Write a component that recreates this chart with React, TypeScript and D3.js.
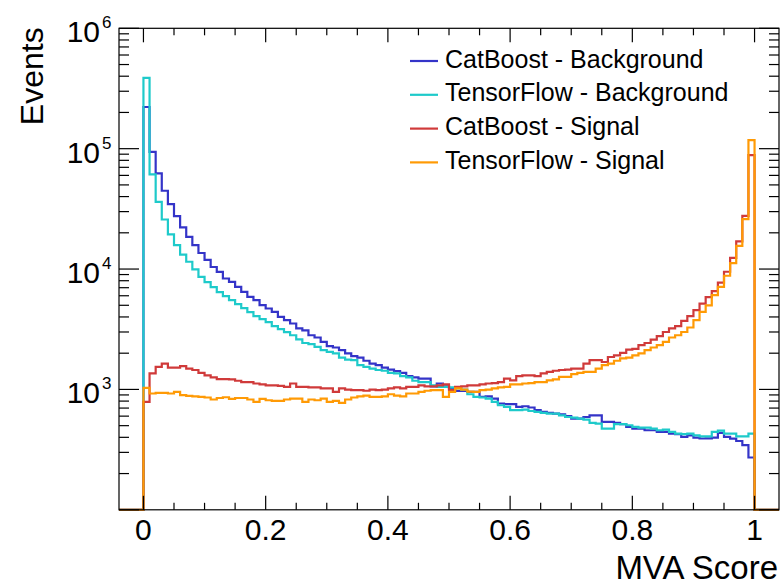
import React from 'react';
import * as d3 from 'd3';

// Histogram binning: 100 bins over [0, 1], axis shown over [-0.04, 1.04]
const binCount = 100;
const scoreMin = 0;
const scoreMax = 1;
const axisMin = -0.04;
const axisMax = 1.04;

const xTickValues = [0, 0.2, 0.4, 0.6, 0.8, 1];
const xTickLabels = ['0', '0.2', '0.4', '0.6', '0.8', '1'];
const yDecades = [2, 3, 4, 5, 6];
const yLabelDecades = [3, 4, 5, 6];

const catBoostBackground = [
  222000, 94200, 62400, 44700, 34600, 27500, 22200, 18500, 15800, 13600,
  11900, 10400, 9480, 8350, 7830, 7120, 6460, 5870, 5510, 5010,
  4700, 4410, 4010, 3760, 3530, 3210, 3100, 2820, 2700, 2480,
  2290, 2230, 2120, 1990, 1890, 1840, 1730, 1640, 1590, 1520,
  1460, 1420, 1370, 1290, 1260, 1230, 1230, 1060, 1120, 1060,
  1020, 970, 970, 953, 953, 867, 877, 840, 764, 754,
  754, 716, 725, 708, 672, 650, 638, 630, 622, 599,
  573, 573, 590, 609, 609, 537, 537, 527, 514, 488,
  473, 473, 458, 458, 444, 444, 430, 425, 403, 416,
  398, 391, 392, 398, 435, 403, 390, 373, 344, 272,
];

const tensorFlowBackground = [
  388000, 61100, 36200, 25800, 19400, 15800, 13200, 11500, 9930, 8610,
  7780, 7080, 6430, 5960, 5520, 5110, 4730, 4380, 4060, 3840,
  3630, 3360, 3170, 2990, 2820, 2600, 2430, 2380, 2260, 2120,
  2050, 1990, 1840, 1770, 1750, 1590, 1540, 1490, 1450, 1430,
  1370, 1360, 1290, 1260, 1180, 1150, 1150, 1080, 1050, 1050,
  1040, 1020, 997, 912, 867, 857, 840, 787, 739, 716,
  672, 672, 680, 662, 650, 638, 630, 630, 609, 590,
  584, 573, 562, 527, 520, 473, 473, 514, 514, 504,
  488, 482, 482, 473, 458, 464, 444, 430, 425, 430,
  416, 408, 408, 444, 455, 430, 430, 408, 408, 430,
];

const catBoostSignal = [
  787, 1360, 1540, 1640, 1520, 1520, 1560, 1490, 1450, 1370,
  1310, 1260, 1220, 1220, 1210, 1180, 1150, 1150, 1120, 1100,
  1080, 1080, 1070, 1050, 1120, 1050, 1050, 1040, 1040, 1020,
  1020, 953, 1020, 997, 985, 985, 975, 997, 985, 997,
  1020, 1040, 1020, 1050, 1050, 1080, 1060, 1060, 1080, 1100,
  985, 1050, 1060, 1080, 1080, 1100, 1120, 1130, 1150, 1230,
  1190, 1290, 1310, 1310, 1290, 1360, 1400, 1430, 1450, 1460,
  1490, 1490, 1640, 1750, 1750, 1690, 1860, 1920, 2010, 2140,
  2170, 2330, 2430, 2590, 2770, 3000, 3210, 3350, 3710, 4060,
  4550, 5170, 5840, 6550, 7700, 9500, 12400, 17000, 27700, 88500,
];

const tensorFlowSignal = [
  1030, 925, 935, 935, 925, 953, 896, 884, 877, 867,
  857, 825, 849, 861, 834, 849, 849, 825, 787, 834,
  813, 802, 802, 825, 840, 840, 787, 825, 813, 840,
  787, 802, 773, 825, 857, 877, 889, 867, 867, 877,
  912, 889, 877, 925, 925, 953, 975, 985, 985, 867,
  953, 1020, 997, 960, 953, 985, 997, 1020, 1040, 1050,
  1100, 1100, 1120, 1130, 1150, 1150, 1190, 1210, 1270, 1270,
  1340, 1370, 1400, 1400, 1490, 1590, 1640, 1730, 1810, 1840,
  1920, 1990, 2120, 2230, 2330, 2480, 2700, 2820, 3000, 3270,
  3760, 4400, 5000, 6070, 7100, 8800, 11200, 15600, 26000, 117800,
];

const seriesNames = [
  'CatBoost - Background',
  'TensorFlow - Background',
  'CatBoost - Signal',
  'TensorFlow - Signal',
];
const seriesColors = ['#3434c8', '#1ecaca', '#d03a3a', '#ff9a05'];
const seriesValues = [catBoostBackground, tensorFlowBackground, catBoostSignal, tensorFlowSignal];

const W = 781;
const H = 586;
const FONT = '"Liberation Sans", Arial, Helvetica, sans-serif';

export default function App() {
  const left = 119;
  const right = 779;
  const top = 28.3;
  const bottom = 509.8;

  const x = d3.scaleLinear().domain([axisMin, axisMax]).range([left, right]);
  const y = d3.scaleLog().domain([100, 1e6]).range([bottom, top]);
  const width = (scoreMax - scoreMin) / binCount;

  const lineGen = d3.line<[number, number]>();

  const histPath = (vals: number[]) => {
    const pts: [number, number][] = [];
    pts.push([x(axisMin), bottom]);
    pts.push([x(scoreMin), bottom]);
    vals.forEach((v, i) => {
      const lo = scoreMin + i * width;
      const hi = scoreMin + (i + 1) * width;
      const yy = v > 0 ? y(v) : bottom;
      pts.push([x(lo), yy]);
      pts.push([x(hi), yy]);
    });
    pts.push([x(scoreMax), bottom]);
    pts.push([x(axisMax), bottom]);
    return lineGen(pts) || '';
  };

  // x ticks: majors every 0.2, minors every 0.05
  const xMinor = d3.range(0, 21).map((i) => i * 0.05).filter((v) => v >= axisMin && v <= axisMax);
  const xMajorLen = 14;
  const xMinorLen = 7;
  const yMajorLen = 20;
  const yMinorLen = 10;

  const yMinor: number[] = [];
  yDecades.slice(0, -1).forEach((d) => {
    for (let m = 2; m <= 9; m++) yMinor.push(m * Math.pow(10, d));
  });

  const legendX0 = 410;
  const legendX1 = 438;
  const legendTextX = 445;
  const legendY0 = 61;
  const legendStep = 33.8;

  return (
    <svg
      width={W}
      height={H}
      style={{ position: 'absolute', left: 0, top: 0, background: '#fff' }}
      fontFamily={FONT}
    >
      <rect x={0} y={0} width={W} height={H} fill="#fff" />
      <defs>
        <clipPath id="frameClip">
          <rect x={left} y={top - 1} width={right - left} height={bottom - top + 2} />
        </clipPath>
      </defs>

      {/* histograms */}
      <g clipPath="url(#frameClip)" fill="none" strokeWidth={2.2} strokeLinejoin="miter">
        {seriesValues.map((vals, i) => (
          <path key={i} d={histPath(vals)} stroke={seriesColors[i]} />
        ))}
      </g>

      {/* frame */}
      <rect x={left} y={top} width={right - left} height={bottom - top} fill="none" stroke="#000" strokeWidth={1.2} />

      {/* ticks on all four sides */}
      <g stroke="#000" strokeWidth={1.2}>
        {xMinor.map((v, i) => {
          const isMajor = xTickValues.some((t) => Math.abs(t - v) < 1e-9);
          const len = isMajor ? xMajorLen : xMinorLen;
          const xx = x(v);
          return (
            <g key={i}>
              <line x1={xx} x2={xx} y1={bottom} y2={bottom - len} />
              <line x1={xx} x2={xx} y1={top} y2={top + len} />
            </g>
          );
        })}
        {yDecades.map((d) => {
          const yy = y(Math.pow(10, d));
          return (
            <g key={'M' + d}>
              <line x1={left} x2={left + yMajorLen} y1={yy} y2={yy} />
              <line x1={right} x2={right - yMajorLen} y1={yy} y2={yy} />
            </g>
          );
        })}
        {yMinor.map((v, i) => {
          const yy = y(v);
          return (
            <g key={'m' + i}>
              <line x1={left} x2={left + yMinorLen} y1={yy} y2={yy} />
              <line x1={right} x2={right - yMinorLen} y1={yy} y2={yy} />
            </g>
          );
        })}
      </g>

      {/* x tick labels */}
      <g fontSize={30} textAnchor="middle" fill="#000">
        {xTickValues.map((v, i) => (
          <text key={i} x={x(v)} y={539.5}>
            {xTickLabels[i]}
          </text>
        ))}
      </g>

      {/* y tick labels: 10^n */}
      <g fill="#000">
        {yLabelDecades.map((d) => {
          const yy = y(Math.pow(10, d));
          return (
            <g key={d}>
              <text x={100} y={yy + 14} fontSize={30} textAnchor="end">
                10
              </text>
              <text x={102} y={yy} fontSize={17} textAnchor="start">
                {String(d)}
              </text>
            </g>
          );
        })}
      </g>

      {/* axis titles */}
      <text x={778} y={579} fontSize={33} textAnchor="end" fill="#000">
        MVA Score
      </text>
      <text
        transform={`translate(43, ${top - 1}) rotate(-90)`}
        fontSize={32}
        textAnchor="end"
        fill="#000"
      >
        Events
      </text>

      {/* legend */}
      <g>
        {seriesNames.map((name, i) => {
          const yy = legendY0 + i * legendStep;
          return (
            <g key={name}>
              <line x1={legendX0} x2={legendX1} y1={yy} y2={yy} stroke={seriesColors[i]} strokeWidth={2.2} />
              <text x={legendTextX} y={yy + 6.5} fontSize={25} fill="#000">
                {name}
              </text>
            </g>
          );
        })}
      </g>
    </svg>
  );
}
